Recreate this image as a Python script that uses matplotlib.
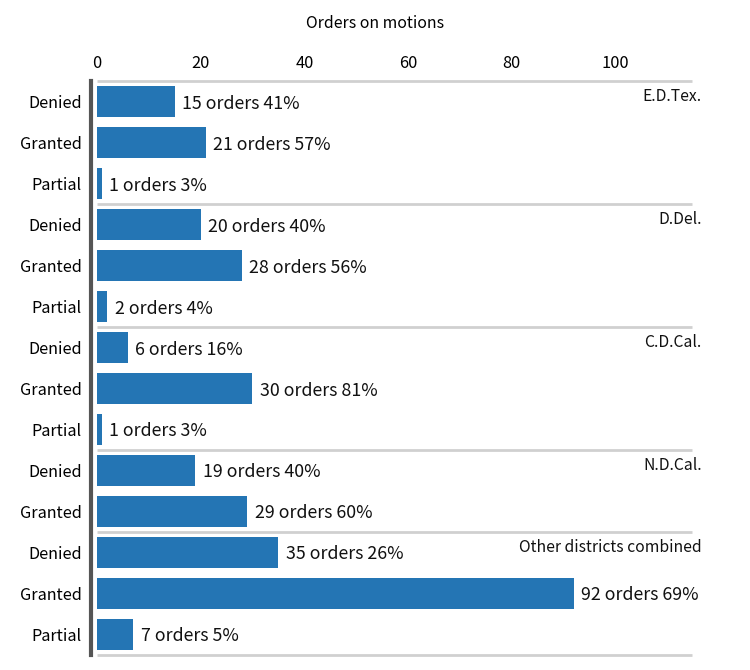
import matplotlib
matplotlib.use("Agg")
import matplotlib.pyplot as plt
import numpy as np

plt.rcParams['font.family'] = ['Noto Sans CJK KR', 'DejaVu Sans']

# Datos
districts = ["E.D.Tex.", "D.Del.", "C.D.Cal.", "N.D.Cal.", "Other districts combined"]
outcomes = [
    ["Denied", "Granted", "Partial"],
    ["Denied", "Granted", "Partial"],
    ["Denied", "Granted", "Partial"],
    ["Denied", "Granted"],
    ["Denied", "Granted", "Partial"],
]
orders = [
    [15, 21, 1],
    [20, 28, 2],
    [6, 30, 1],
    [19, 29],
    [35, 92, 7],
]
percents = [
    [41, 57, 3],
    [40, 56, 4],
    [16, 81, 3],
    [40, 60],
    [26, 69, 5],
]

BLUE = "#2475b4"
XMAX = 114.8

fig = plt.figure(figsize=(7.5, 6.7), dpi=100)
ax = fig.add_axes([0.1293, 1 - 654.7 / 670, 0.7933, 573.4 / 670])

labels = []
vals = []
pcts = []
bounds = [-0.5]
group_start = []
pos = 0
for g, names in enumerate(outcomes):
    group_start.append(pos)
    for k, name in enumerate(names):
        labels.append(name)
        vals.append(orders[g][k])
        pcts.append(percents[g][k])
        pos += 1
    bounds.append(pos - 0.5)

y = np.arange(len(vals))
ax.barh(y, vals, height=0.75, color=BLUE, zorder=2)

for yi, v, p in zip(y, vals, pcts):
    ax.text(v + 1.4, yi + 0.05, f"{v} orders {p}%", va="center", ha="left",
            fontsize=12.8, color="#111111")

for b in bounds:
    ax.hlines(b, 0, XMAX, color="#d0d0d0", linewidth=2, zorder=1, clip_on=False)

for g, name in enumerate(districts):
    ax.text(116.7, group_start[g] - 0.12, name, ha="right", va="center",
            fontsize=11.3, color="#111111", clip_on=False)

ax.set_ylim(len(vals) - 0.5, -0.5)
ax.set_xlim(0, XMAX)
ax.set_yticks(y)
ax.set_yticklabels(labels)
ax.set_xticks([0, 20, 40, 60, 80, 100])
ax.xaxis.tick_top()
ax.xaxis.set_label_position("top")
ax.set_xlabel("Orders on motions", fontsize=11.4)
ax.xaxis.set_label_coords((375 - 97) / 595, 1 + 58 / 573.4)
ax.xaxis.label.set_verticalalignment("center")
ax.tick_params(axis="x", length=0, pad=7, labelsize=11.8)
ax.tick_params(axis="y", length=0, pad=7, labelsize=11.7)

for s in ["top", "right", "bottom"]:
    ax.spines[s].set_visible(False)
ax.spines["left"].set_color("#555555")
ax.spines["left"].set_linewidth(3)
ax.spines["left"].set_position(("outward", 4))

fig.savefig("out.png", dpi=100)
